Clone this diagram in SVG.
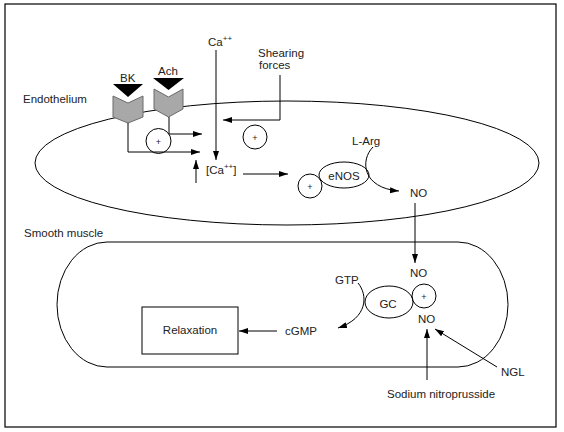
<svg xmlns="http://www.w3.org/2000/svg" width="564" height="432" viewBox="0 0 564 432">
<style>
.t{font-family:"Liberation Sans",Arial,sans-serif;font-size:11.5px;fill:#222}
.s{font-size:8px}
.p{font-family:"Liberation Sans",Arial,sans-serif;font-size:9px;fill:#222;text-anchor:middle}
.ln{fill:none;stroke:#000;stroke-width:1}
.sh{fill:none;stroke:#000;stroke-width:1}
.rc{fill:#a8a8a8;stroke:#6a6a6a;stroke-width:1}
.ar{fill:none;stroke:#000;stroke-width:1;marker-end:url(#ah)}
</style>
<defs>
<marker id="ah" markerUnits="userSpaceOnUse" markerWidth="10" markerHeight="7" refX="9" refY="3" orient="auto">
<path d="M0,0 L9,3 L0,6 z" fill="#000"/>
</marker>
</defs>
<rect x="0" y="0" width="564" height="432" fill="#fff"/>
<rect x="5" y="4" width="551" height="423" fill="none" stroke="#000" stroke-width="1.2"/>

<g id="endothelium">
<ellipse cx="287" cy="163" rx="252" ry="62" class="sh"/>
<text class="t" x="23" y="103">Endothelium</text>
</g>
<g id="smooth-muscle">
<rect x="57" y="242" width="451" height="125" rx="50" ry="62.5" class="sh"/>
<text class="t" x="24" y="237">Smooth muscle</text>
</g>

<g id="ca-out"><text class="t" x="208" y="46">Ca<tspan class="s" dy="-5">++</tspan></text></g>
<g id="shearing"><text class="t" x="258" y="57">Shearing</text><text class="t" x="259" y="69">forces</text></g>

<g id="bk">
<text class="t" x="120" y="82">BK</text>
<polygon points="113,84 143,84 128,97" fill="#000"/>
<polygon points="113,96 128,103 143,96 143,117 128,123 113,117" class="rc"/>
</g>
<g id="ach">
<text class="t" x="158" y="75">Ach</text>
<polygon points="153,78 184,78 168.5,90" fill="#000"/>
<polygon points="154,89 168.5,97 183,89 183,109 168.5,117 154,109" class="rc"/>
</g>

<g id="plus1"><circle cx="158.5" cy="141" r="12.5" class="sh"/><text class="p" x="158.5" y="144.5">+</text></g>
<g id="plus2"><circle cx="255" cy="137" r="12" class="sh"/><text class="p" x="255" y="140.5">+</text></g>
<g id="ca-in"><text class="t" x="206" y="174">[Ca<tspan class="s" dy="-5">++</tspan><tspan dy="5">]</tspan></text></g>
<g id="plus3"><circle cx="310" cy="186" r="12" class="sh"/><text class="p" x="310" y="189.5">+</text></g>
<g id="enos"><ellipse cx="344" cy="175" rx="25" ry="13" class="sh"/><text class="t" x="344" y="180" text-anchor="middle">eNOS</text></g>
<g id="larg"><text class="t" x="352" y="145">L-Arg</text></g>
<g id="no1"><text class="t" x="410" y="197">NO</text></g>

<g id="no2"><text class="t" x="410" y="277">NO</text></g>
<g id="gtp"><text class="t" x="335" y="284">GTP</text></g>
<g id="gc"><ellipse cx="389" cy="302" rx="24" ry="16" class="sh"/><text class="t" x="388" y="308" text-anchor="middle">GC</text></g>
<g id="plus4"><circle cx="424" cy="296" r="12" class="sh"/><text class="p" x="424" y="299.5">+</text></g>
<g id="no3"><text class="t" x="418" y="323">NO</text></g>
<g id="cgmp"><text class="t" x="285" y="335">cGMP</text></g>
<g id="relaxation"><rect x="142" y="307" width="96" height="47" class="sh"/><text class="t" x="190" y="334" text-anchor="middle">Relaxation</text></g>
<g id="ngl"><text class="t" x="501" y="376">NGL</text></g>
<g id="snp"><text class="t" x="387" y="398">Sodium nitroprusside</text></g>

<g id="connectors">
<path class="ar" d="M216,50 V160"/>
<path class="ar" d="M280,75 V120 H223"/>
<path class="ar" d="M169,117 V134 H202"/>
<path class="ar" d="M128,123 V152 H200"/>
<path class="ar" d="M196,183 V160"/>
<path class="ar" d="M243,174 H288"/>
<path class="ar" d="M373,147 C360,160 362,188 399,191"/>
<path class="ar" d="M415,203 V263"/>
<path class="ar" d="M358,283 C368,295 368,318 338,328"/>
<path class="ar" d="M277,331 H239"/>
<path class="ar" d="M427,380 V329"/>
<path class="ar" d="M497,367 L435,329"/>
</g>
</svg>
